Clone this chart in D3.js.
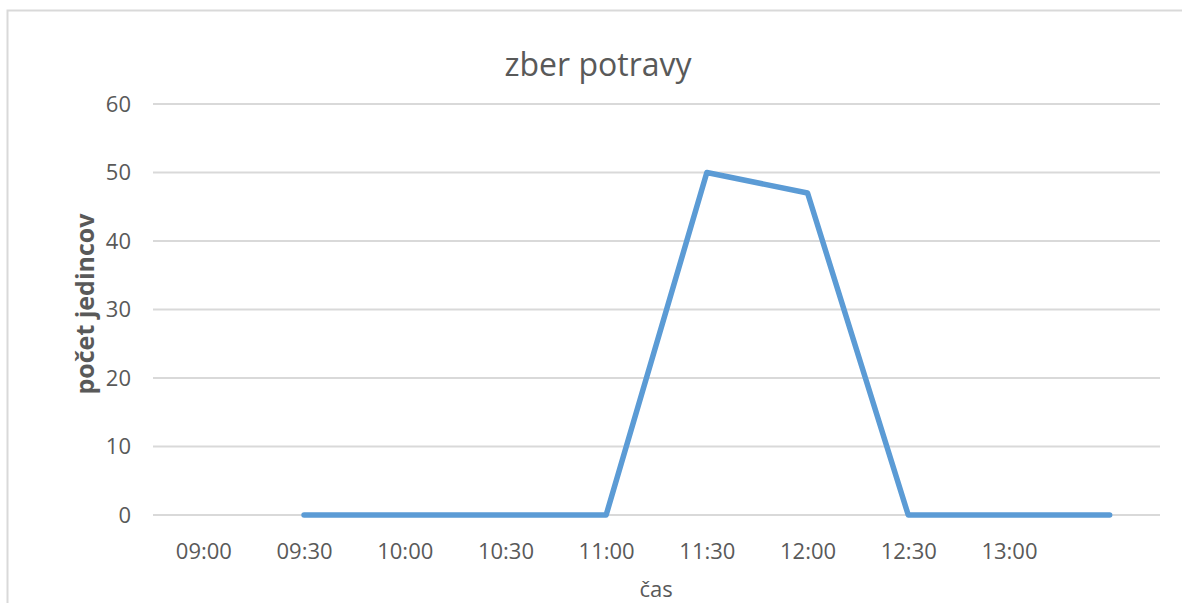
<!DOCTYPE html>
<html>
<head>
<meta charset="utf-8">
<script src="https://cdn.jsdelivr.net/npm/d3@7"></script>
<style>
  body { margin: 0; background: #fff; }
  svg { display: block; font-family: "Open Sans", sans-serif; }
</style>
</head>
<body>
<svg width="1182" height="603"></svg>
<script>
// data
const categories = ["09:00", "09:30", "10:00", "10:30", "11:00", "11:30", "12:00", "12:30", "13:00", ""];
const values = [null, 0, 0, 0, 0, 50, 47, 0, 0, 0];
const yTicks = [0, 10, 20, 30, 40, 50, 60];

const svg = d3.select("svg");

// frame of the chart area (cut off right and bottom)
svg.append("path")
  .attr("d", "M7.5,603 V10.5 H1182")
  .attr("fill", "none")
  .attr("stroke", "#d9d9d9")
  .attr("stroke-width", 2);

const plotLeft = 153, plotRight = 1160, plotTop = 104, plotBottom = 515;

const x = d3.scalePoint().domain(d3.range(categories.length)).range([plotLeft, plotRight]).padding(0.5);
const y = d3.scaleLinear().domain([0, 60]).range([plotBottom, plotTop]);

// grid
svg.append("g")
  .selectAll("line")
  .data(yTicks)
  .join("line")
  .attr("x1", plotLeft)
  .attr("x2", plotRight)
  .attr("y1", d => y(d))
  .attr("y2", d => y(d))
  .attr("stroke", "#d9d9d9")
  .attr("stroke-width", 2);

// y axis labels
const yAxis = d3.axisLeft(y).tickValues(yTicks).tickSize(0).tickPadding(0);
svg.append("g")
  .attr("transform", "translate(131,0)")
  .call(yAxis)
  .call(g => g.select(".domain").remove())
  .selectAll("text")
  .attr("fill", "#595959")
  .style("font-size", "22px")
  .style("font-family", "Open Sans, sans-serif");

// x axis labels
const xAxis = d3.axisBottom(x).tickFormat(i => categories[i]).tickSize(0).tickPadding(0);
svg.append("g")
  .attr("transform", "translate(0,543)")
  .call(xAxis)
  .call(g => g.select(".domain").remove())
  .selectAll("text")
  .attr("fill", "#595959")
  .style("font-size", "22px")
  .style("font-family", "Open Sans, sans-serif");

// line
const line = d3.line()
  .defined(d => d.v !== null)
  .x(d => x(d.i))
  .y(d => y(d.v));

svg.append("path")
  .datum(values.map((v, i) => ({ i: i, v: v })))
  .attr("fill", "none")
  .attr("stroke", "#5b9bd5")
  .attr("stroke-width", 5.5)
  .attr("stroke-linejoin", "round")
  .attr("stroke-linecap", "round")
  .attr("d", line);

// title
svg.append("text")
  .attr("x", 598)
  .attr("y", 76)
  .attr("text-anchor", "middle")
  .attr("fill", "#595959")
  .style("font-size", "32px")
  .text("zber potravy");

// axis titles
svg.append("text")
  .attr("transform", "translate(94,304) rotate(-90)")
  .attr("text-anchor", "middle")
  .attr("fill", "#595959")
  .style("font-size", "25px")
  .style("font-weight", "bold")
  .text("počet jedincov");

svg.append("text")
  .attr("x", 656)
  .attr("y", 597)
  .attr("text-anchor", "middle")
  .attr("fill", "#595959")
  .style("font-size", "22px")
  .text("čas");
</script>
</body>
</html>
